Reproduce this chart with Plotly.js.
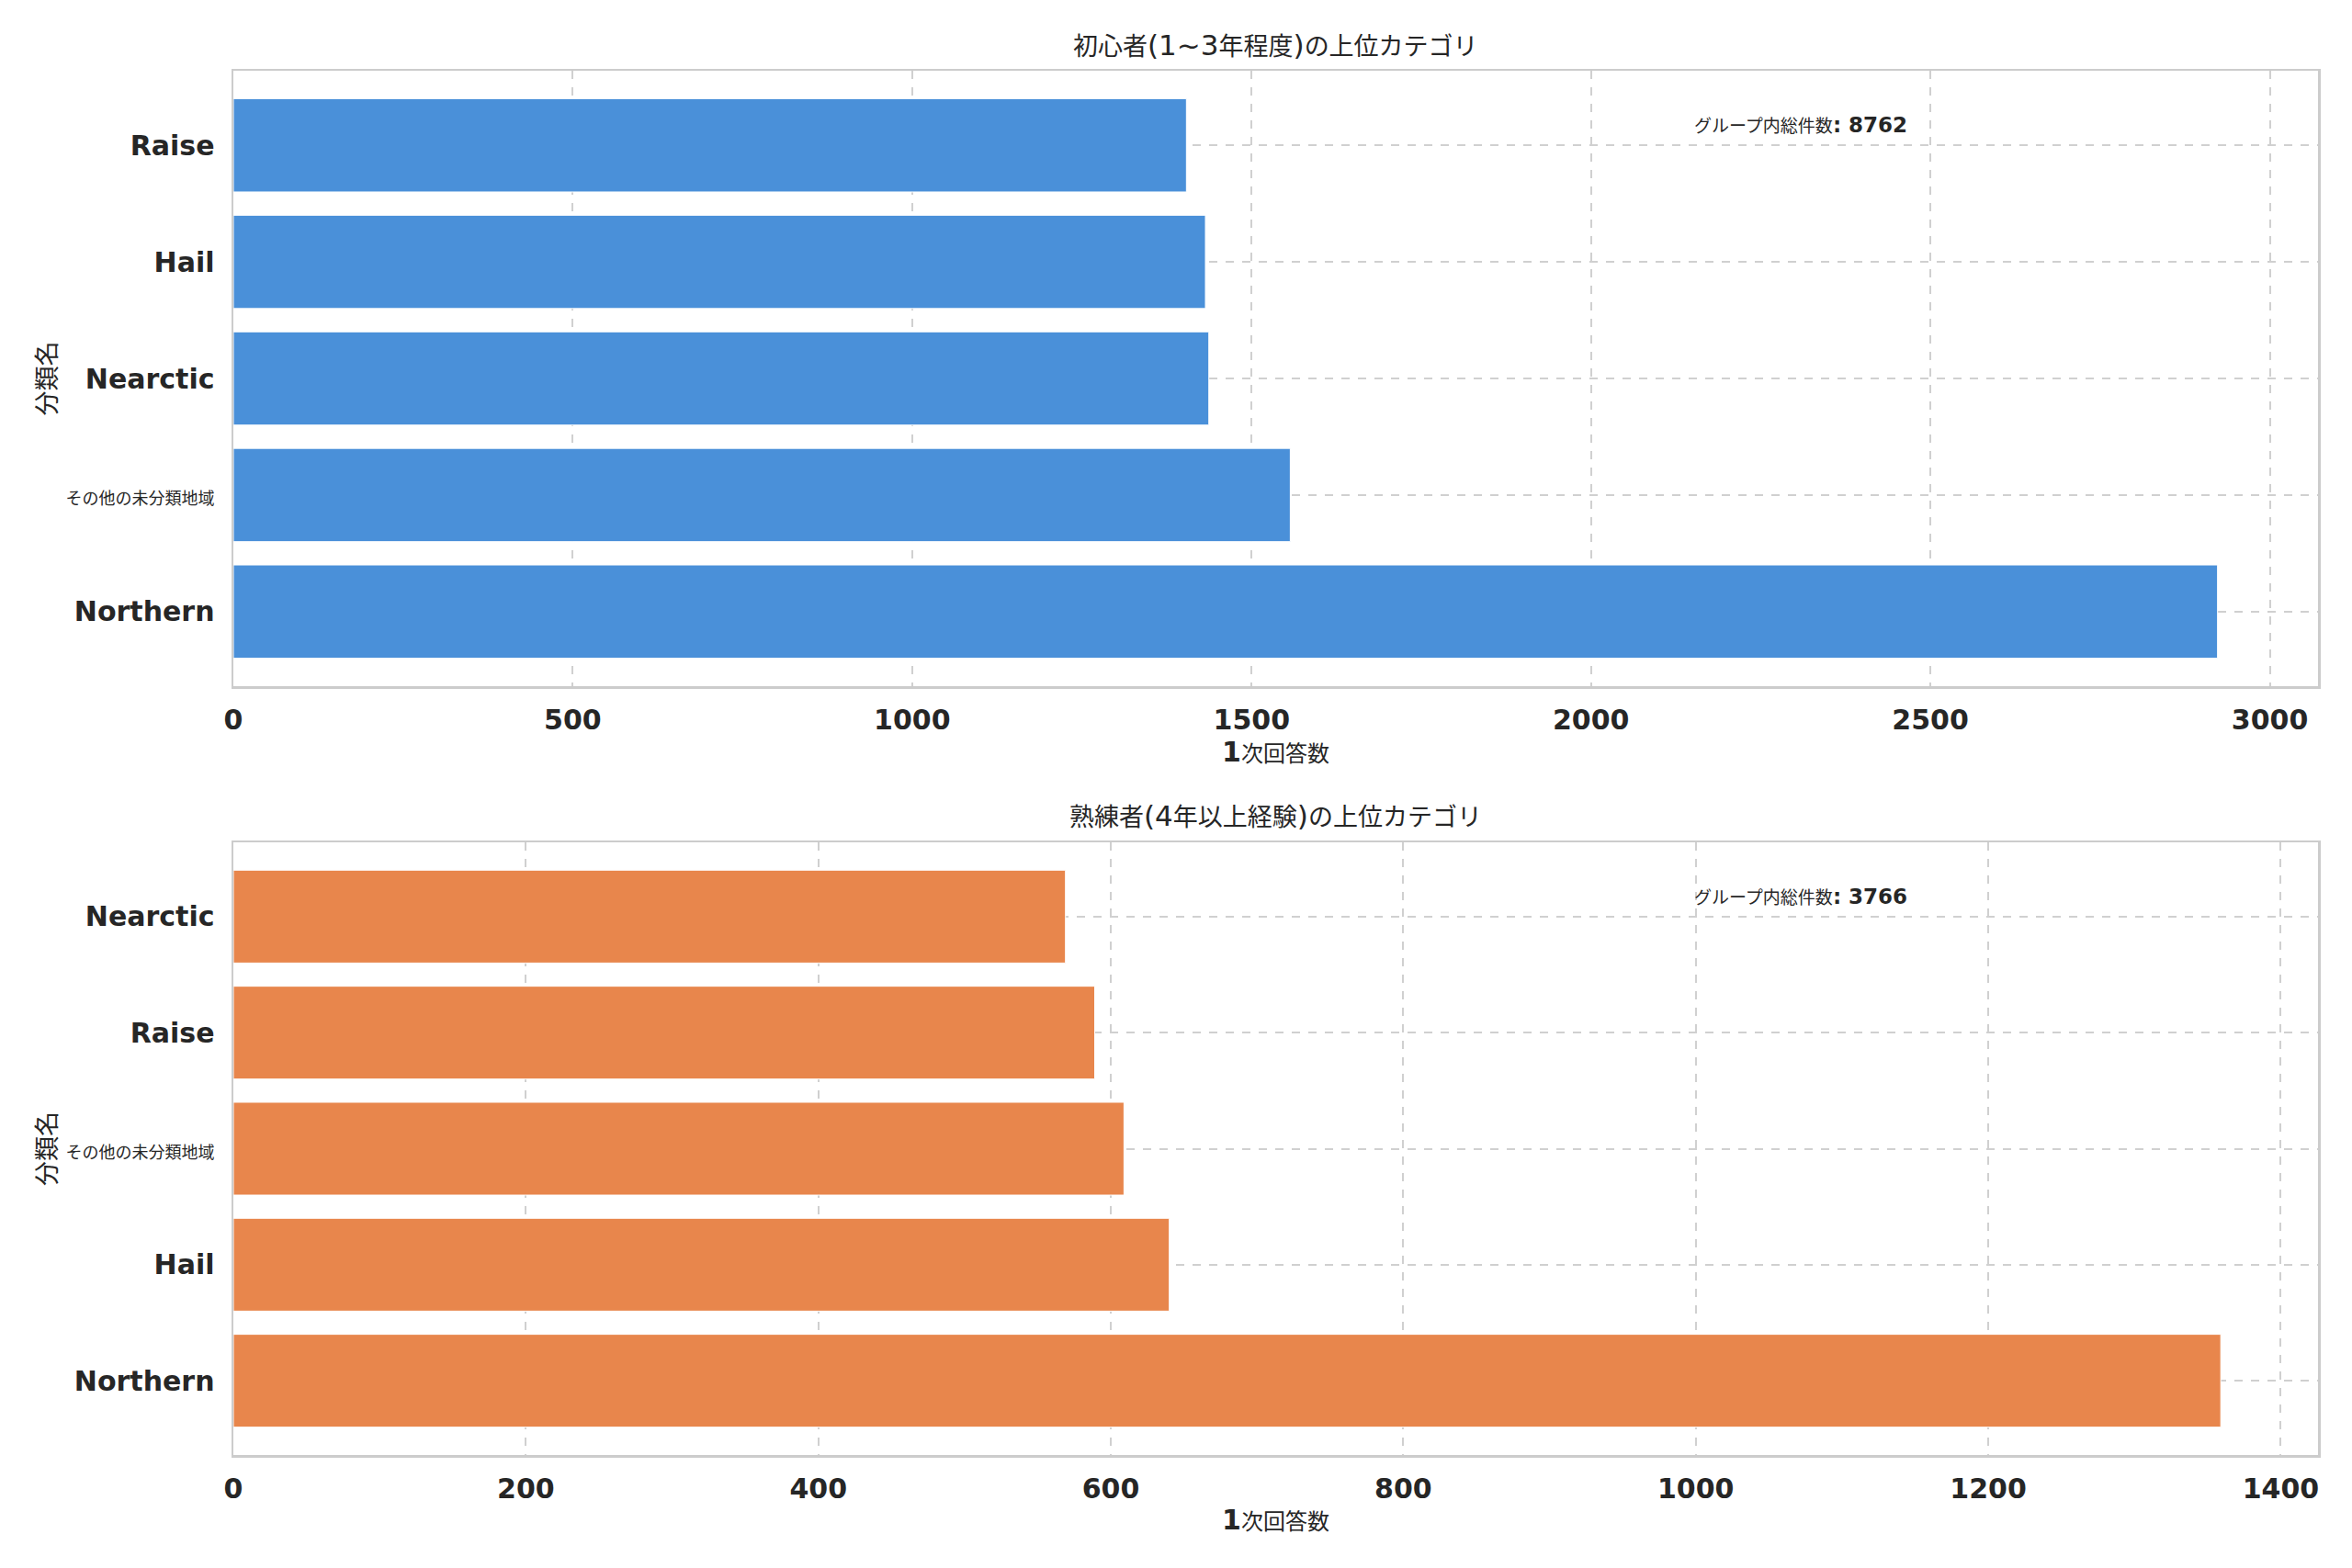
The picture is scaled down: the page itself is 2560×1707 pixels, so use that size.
<!DOCTYPE html>
<html>
<head>
<meta charset="utf-8">
<script src="https://cdn.plot.ly/plotly-3.0.1.min.js"></script>
<style>
  html, body { margin: 0; padding: 0; background: #fff; }
  #chart { width: 2560px; height: 1707px; }
</style>
</head>
<body>
<div id="chart"></div>
<script>
// top panel: 1~3 years group (bottom to top)
var topCategories = ["Northern", "その他の未分類地域", "Nearctic", "Hail", "Raise"];
var topValues = [2923, 1557, 1437, 1432, 1404];
var topTotal = 8762;

// bottom panel: 4+ years group (bottom to top)
var bottomCategories = ["Northern", "Hail", "その他の未分類地域", "Raise", "Nearctic"];
var bottomValues = [1359, 640, 609, 589, 569];
var bottomTotal = 3766;

var topTitle = "初心者(1~3年程度)の上位カテゴリ";
var bottomTitle = "熟練者(4年以上経験)の上位カテゴリ";
var totalLabel = "グループ内総件数";
var xLabel = "1次回答数";
var yLabel = "分類名";

var topTicks = [0, 500, 1000, 1500, 2000, 2500, 3000];
var bottomTicks = [0, 200, 400, 600, 800, 1000, 1200, 1400];

var FONT = "DejaVu Sans, Noto Sans CJK JP, sans-serif";
var TXT = "#262626";

// non-latin runs get their own size and normal weight
function cjk(s, size){
    return s.replace(/([^\x00-\x7F]+)/g, '<span style="font-size:' + size + 'px;font-weight:normal">$1</span>');
}

var data = [
    {
        type: "bar", orientation: "h",
        y: topCategories, x: topValues,
        xaxis: "x", yaxis: "y",
        width: 0.8,
        marker: { color: "#4A90D9", line: { color: "#ffffff", width: 1 } },
        hoverinfo: "x+y"
    },
    {
        type: "bar", orientation: "h",
        y: bottomCategories, x: bottomValues,
        xaxis: "x2", yaxis: "y2",
        width: 0.8,
        marker: { color: "#E8864C", line: { color: "#ffffff", width: 1 } },
        hoverinfo: "x+y"
    }
];

function xAxis(range, ticks, anchor){
    return {
        anchor: anchor,
        range: range,
        tickvals: ticks,
        ticktext: ticks.map(String),
        showgrid: true, gridcolor: "#d0d0d0", gridwidth: 2, griddash: "dash",
        zeroline: false,
        showline: true, mirror: true, linecolor: "#cccccc", linewidth: 2.5,
        ticks: "", ticklabelstandoff: 8,
        tickfont: { family: FONT, size: 30, color: TXT, weight: "bold" },
        title: { text: cjk(xLabel, 24), standoff: 8, font: { family: FONT, size: 30, color: TXT, weight: "bold" } }
    };
}

function yAxis(cats, domain, anchor){
    return {
        anchor: anchor,
        domain: domain,
        type: "category",
        range: [-0.64, cats.length - 1 + 0.64],
        tickvals: cats,
        ticktext: cats.map(function(c){ return cjk(c, 18); }),
        showgrid: true, gridcolor: "#d0d0d0", gridwidth: 2, griddash: "dash",
        zeroline: false,
        showline: true, mirror: true, linecolor: "#cccccc", linewidth: 2.5,
        ticks: "", ticklabelstandoff: 12,
        tickfont: { family: FONT, size: 30, color: TXT, weight: "bold" },
        title: { text: yLabel, standoff: 2, font: { family: FONT, size: 27, color: TXT } }
    };
}

var layout = {
    width: 2560, height: 1707,
    margin: { l: 254, r: 37, t: 77, b: 123 },
    paper_bgcolor: "#ffffff",
    plot_bgcolor: "#ffffff",
    showlegend: false,
    bargap: 0.2,
    xaxis: xAxis([0, 3071], topTicks, "y"),
    yaxis: yAxis(topCategories, [0.5554, 1], "x"),
    xaxis2: xAxis([0, 1425.5], bottomTicks, "y2"),
    yaxis2: yAxis(bottomCategories, [0, 0.4426], "x2"),
    annotations: [
        {
            xref: "paper", yref: "paper", x: 0.5, y: 1.0186,
            xanchor: "center", yanchor: "middle", showarrow: false,
            text: cjk(topTitle, 27),
            font: { family: FONT, size: 31, color: TXT }
        },
        {
            xref: "paper", yref: "paper", x: 0.5, y: 0.4618,
            xanchor: "center", yanchor: "middle", showarrow: false,
            text: cjk(bottomTitle, 27),
            font: { family: FONT, size: 31, color: TXT }
        },
        {
            xref: "x domain", yref: "y domain", x: 0.7, y: 0.912,
            xanchor: "left", yanchor: "middle", showarrow: false,
            text: cjk(totalLabel, 19) + ": " + topTotal,
            font: { family: FONT, size: 23, color: TXT, weight: "bold" }
        },
        {
            xref: "x2 domain", yref: "y2 domain", x: 0.7, y: 0.912,
            xanchor: "left", yanchor: "middle", showarrow: false,
            text: cjk(totalLabel, 19) + ": " + bottomTotal,
            font: { family: FONT, size: 23, color: TXT, weight: "bold" }
        }
    ]
};

Plotly.newPlot("chart", data, layout, { displayModeBar: false, staticPlot: true });
</script>
</body>
</html>
